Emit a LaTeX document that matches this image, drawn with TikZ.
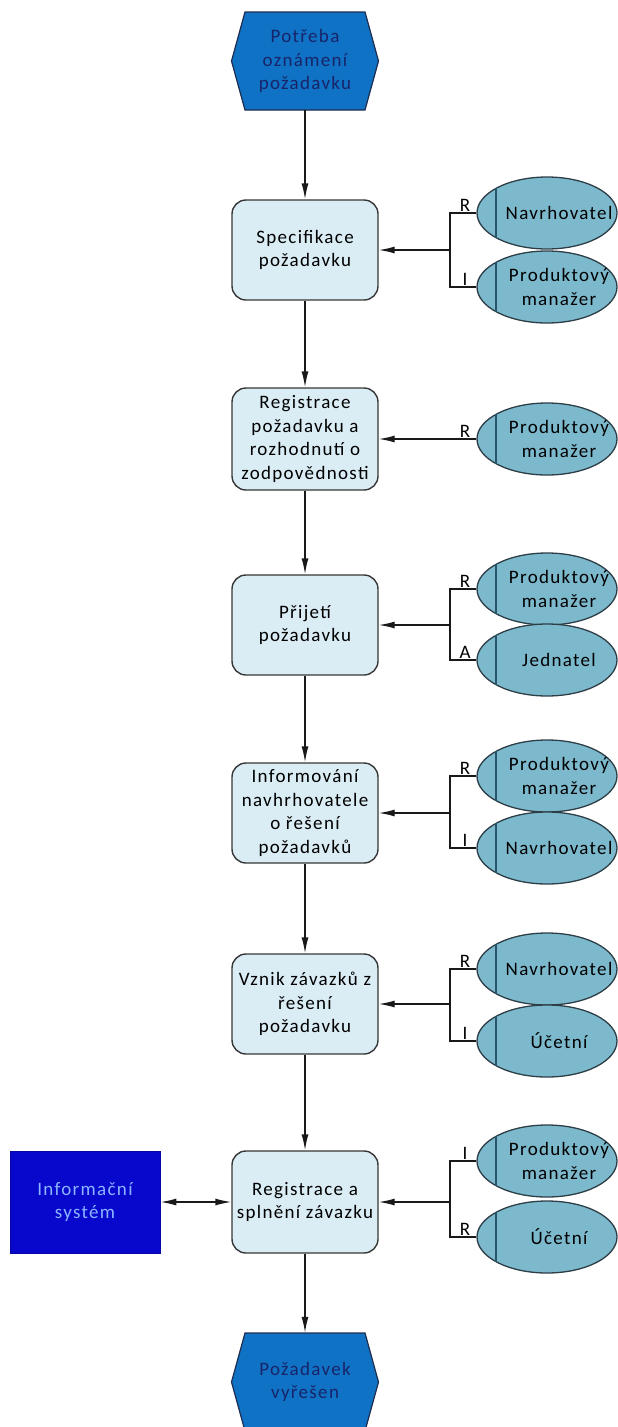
\documentclass[tikz,border=0pt]{standalone}
\usepackage{fontspec}
\setmainfont{Carlito}[LetterSpace=7]
\usetikzlibrary{arrows.meta,shapes.geometric}

\definecolor{boxfill}{RGB}{218,236,244}
\definecolor{boxline}{RGB}{55,55,55}
\definecolor{rolefill}{RGB}{125,185,205}
\definecolor{roleline}{RGB}{45,62,70}
\definecolor{rolebar}{RGB}{40,85,105}
\definecolor{hexfill}{RGB}{16,114,196}
\definecolor{hexline}{RGB}{30,45,80}
\definecolor{hextext}{RGB}{24,36,105}
\definecolor{sysfill}{RGB}{8,8,204}
\definecolor{systext}{RGB}{140,180,255}
\definecolor{wire}{RGB}{25,25,25}

\newcommand\diagfont{\fontsize{19}{23.5}\selectfont}

\tikzset{
  stepbox/.style={draw=boxline, line width=1.4pt, fill=boxfill, rounded corners=14pt,
    minimum width=146pt, minimum height=100pt, inner sep=0pt, align=center, font=\diagfont},
  rolebox/.style={ellipse, draw=roleline, line width=1.3pt, fill=rolefill,
    minimum width=140pt, minimum height=72pt, inner sep=0pt},
  roletext/.style={align=center, font=\diagfont, inner sep=0pt},
  raci/.style={font=\diagfont, inner sep=0.5pt, anchor=south},
  evttext/.style={minimum width=147pt, minimum height=98pt, inner sep=0pt, align=center,
    text=hextext, font=\diagfont},
  evtshape/.style={draw=hexline, line width=1.2pt, fill=hexfill},
  sysbox/.style={fill=sysfill, draw=sysfill!80!black, line width=0.8pt, minimum width=150pt,
    minimum height=102pt, inner sep=0pt, align=center, text=systext, font=\diagfont},
  wireline/.style={draw=wire, line width=1.4pt},
  flow/.style={wireline, -{Latex[length=16pt,width=7pt]}},
  both/.style={wireline, {Latex[length=16pt,width=7pt]}-{Latex[length=16pt,width=7pt]}}
}

% role ellipse with its inner bar and label
\newcommand\rolenode[3]{%
  \node[rolebox] (#1) at (547,#2) {};
  \draw[rolebar, line width=1.3pt] ([xshift=-51pt,yshift=24.6pt]#1.center) -- ([xshift=-51pt,yshift=-24.6pt]#1.center);
  \node[roletext] (#1-t) at ([xshift=12pt]#1.center) {#3};
}
% event hexagon
\newcommand\eventshape[2]{%
  \begin{scope}[shift={(#1,#2)}]
    \path[evtshape] (-60,-49) -- (60,-49) -- (73.5,0) -- (60,49) -- (-60,49) -- (-73.5,0) -- cycle;
  \end{scope}
}

\begin{document}
\begin{tikzpicture}[x=1pt, y=-1pt]
\useasboundingbox (0,0) rectangle (618,1427);

% start and end events
\eventshape{305}{61}
\node[evttext] (start) at (305,61) {Potřeba\\oznámení\\požadavku};
\eventshape{305}{1382}
\node[evttext] (finish) at (305,1382) {Požadavek\\vyřešen};

% process steps
\node[stepbox] (b1) at (305,250) {Specifikace\\požadavku};
\node[stepbox, minimum height=102pt] (b2) at (305,439) {Registrace\\požadavku a\\rozhodnutí o\\zodpovědnosti};
\node[stepbox] (b3) at (305,625) {Přijetí\\požadavku};
\node[stepbox] (b4) at (305,813) {Informování\\navhrhovatele\\o řešení\\požadavků};
\node[stepbox] (b5) at (305,1004) {Vznik závazků z\\řešení\\požadavku};
\node[stepbox, minimum height=102pt] (b6) at (305,1202) {Registrace a\\splnění závazku};

% information system
\node[sysbox] (is) at (85,1202) {Informační\\systém};

% main flow
\draw[flow] (start.south) -- (b1.north);
\draw[flow] (b1.south) -- (b2.north);
\draw[flow] (b2.south) -- (b3.north);
\draw[flow] (b3.south) -- (b4.north);
\draw[flow] (b4.south) -- (b5.north);
\draw[flow] (b5.south) -- (b6.north);
\draw[flow] (b6.south) -- (finish.north);
\draw[both] (is.east) -- (b6.west);

% roles of step 1
\rolenode{r1a}{213}{Navrhovatel}
\rolenode{r1b}{287}{Produktový\\manažer}
\coordinate (j1) at (450,250);
\draw[wireline] (r1a.west) -- (r1a.west -| j1) -- (r1b.west -| j1) -- (r1b.west);
\draw[flow] (j1) -- (b1.east);
\node[raci] (l1a) at (465,212) {R};
\node[raci] (l1b) at (465,286) {I};

% roles of step 2
\rolenode{r2}{439}{Produktový\\manažer}
\draw[flow] (r2.west) -- (b2.east);
\node[raci] (l2) at (465,438) {R};

% roles of step 3
\rolenode{r3a}{589}{Produktový\\manažer}
\rolenode{r3b}{660}{Jednatel}
\coordinate (j3) at (450,625);
\draw[wireline] (r3a.west) -- (r3a.west -| j3) -- (r3b.west -| j3) -- (r3b.west);
\draw[flow] (j3) -- (b3.east);
\node[raci] (l3a) at (465,588) {R};
\node[raci] (l3b) at (465,659) {A};

% roles of step 4
\rolenode{r4a}{776}{Produktový\\manažer}
\rolenode{r4b}{848}{Navrhovatel}
\coordinate (j4) at (450,813);
\draw[wireline] (r4a.west) -- (r4a.west -| j4) -- (r4b.west -| j4) -- (r4b.west);
\draw[flow] (j4) -- (b4.east);
\node[raci] (l4a) at (465,775) {R};
\node[raci] (l4b) at (465,847) {I};

% roles of step 5
\rolenode{r5a}{969}{Navrhovatel}
\rolenode{r5b}{1041}{Účetní}
\coordinate (j5) at (450,1004);
\draw[wireline] (r5a.west) -- (r5a.west -| j5) -- (r5b.west -| j5) -- (r5b.west);
\draw[flow] (j5) -- (b5.east);
\node[raci] (l5a) at (465,968) {R};
\node[raci] (l5b) at (465,1040) {I};

% roles of step 6
\rolenode{r6a}{1161}{Produktový\\manažer}
\rolenode{r6b}{1237}{Účetní}
\coordinate (j6) at (450,1202);
\draw[wireline] (r6a.west) -- (r6a.west -| j6) -- (r6b.west -| j6) -- (r6b.west);
\draw[flow] (j6) -- (b6.east);
\node[raci] (l6a) at (465,1160) {I};
\node[raci] (l6b) at (465,1236) {R};
\end{tikzpicture}
\end{document}
